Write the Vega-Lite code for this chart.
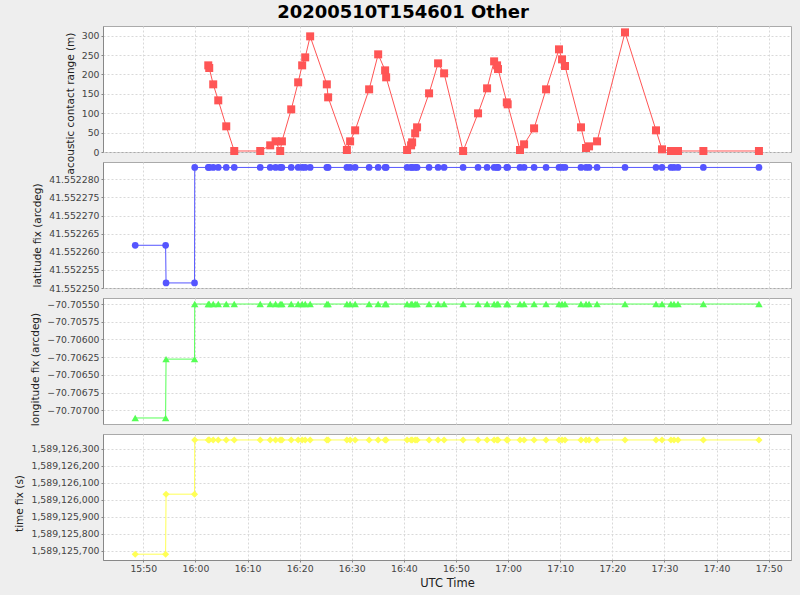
{
  "$schema": "https://vega.github.io/schema/vega-lite/v6.json",
  "background": "#eeeeee",
  "padding": {"left": 14, "top": 3, "right": 8, "bottom": 5},
  "spacing": 10,
  "bounds": "flush",
  "title": {"text": "20200510T154601 Other", "fontSize": 18, "font": "DejaVu Sans", "fontWeight": "bold", "anchor": "middle", "frame": "bounds", "offset": 4, "color": "#000000"},
  "config": {
    "view": {"fill": "white", "stroke": "#aaaaaa"},
    "axis": {"gridColor": "#d9d9d9", "gridDash": [2, 2], "labelFont": "DejaVu Sans", "labelFontSize": 9.3, "labelColor": "#444444", "titleFont": "DejaVu Sans", "titleFontSize": 10.5, "titleFontWeight": "normal", "titleColor": "#222222", "titlePadding": 6, "tickColor": "#888888", "tickSize": 2, "domainColor": "#888888"}
  },
  "datasets": {
    "fix": [
      {"t": "2020-05-10T15:48:27Z", "lat": 41.5522618, "lon": -70.707109, "tf": 1589125681},
      {"t": "2020-05-10T15:54:17Z", "lat": 41.5522618, "lon": -70.707109, "tf": 1589125681},
      {"t": "2020-05-10T15:54:22Z", "lat": 41.5522514, "lon": -70.706278, "tf": 1589126033},
      {"t": "2020-05-10T15:59:50Z", "lat": 41.5522514, "lon": -70.706278, "tf": 1589126033},
      {"t": "2020-05-10T15:59:52Z", "lat": 41.5522833, "lon": -70.7055, "tf": 1589126351},
      {"t": "2020-05-10T16:02:28Z", "r": 223.5, "lat": 41.5522833, "lon": -70.7055, "tf": 1589126351},
      {"t": "2020-05-10T16:02:39Z", "r": 216.6, "lat": 41.5522833, "lon": -70.7055, "tf": 1589126351},
      {"t": "2020-05-10T16:03:25Z", "r": 174.5, "lat": 41.5522833, "lon": -70.7055, "tf": 1589126351},
      {"t": "2020-05-10T16:04:23Z", "r": 133.2, "lat": 41.5522833, "lon": -70.7055, "tf": 1589126351},
      {"t": "2020-05-10T16:05:55Z", "r": 66.2, "lat": 41.5522833, "lon": -70.7055, "tf": 1589126351},
      {"t": "2020-05-10T16:07:27Z", "r": 2.6, "lat": 41.5522833, "lon": -70.7055, "tf": 1589126351},
      {"t": "2020-05-10T16:12:26Z", "r": 2.6, "lat": 41.5522833, "lon": -70.7055, "tf": 1589126351},
      {"t": "2020-05-10T16:14:21Z", "r": 17.2, "lat": 41.5522833, "lon": -70.7055, "tf": 1589126351},
      {"t": "2020-05-10T16:15:23Z", "r": 27.5, "lat": 41.5522833, "lon": -70.7055, "tf": 1589126351},
      {"t": "2020-05-10T16:16:16Z", "r": 2.6, "lat": 41.5522833, "lon": -70.7055, "tf": 1589126351},
      {"t": "2020-05-10T16:16:36Z", "r": 27.5, "lat": 41.5522833, "lon": -70.7055, "tf": 1589126351},
      {"t": "2020-05-10T16:18:23Z", "r": 110, "lat": 41.5522833, "lon": -70.7055, "tf": 1589126351},
      {"t": "2020-05-10T16:19:43Z", "r": 179.7, "lat": 41.5522833, "lon": -70.7055, "tf": 1589126351},
      {"t": "2020-05-10T16:20:29Z", "r": 223.5, "lat": 41.5522833, "lon": -70.7055, "tf": 1589126351},
      {"t": "2020-05-10T16:21:04Z", "r": 244.1, "lat": 41.5522833, "lon": -70.7055, "tf": 1589126351},
      {"t": "2020-05-10T16:22:01Z", "r": 298.3, "lat": 41.5522833, "lon": -70.7055, "tf": 1589126351},
      {"t": "2020-05-10T16:25:13Z", "r": 174.5, "lat": 41.5522833, "lon": -70.7055, "tf": 1589126351},
      {"t": "2020-05-10T16:25:28Z", "r": 141, "lat": 41.5522833, "lon": -70.7055, "tf": 1589126351},
      {"t": "2020-05-10T16:29:04Z", "r": 5.2, "lat": 41.5522833, "lon": -70.7055, "tf": 1589126351},
      {"t": "2020-05-10T16:29:41Z", "r": 27.5, "lat": 41.5522833, "lon": -70.7055, "tf": 1589126351},
      {"t": "2020-05-10T16:30:39Z", "r": 55.9, "lat": 41.5522833, "lon": -70.7055, "tf": 1589126351},
      {"t": "2020-05-10T16:33:20Z", "r": 161.6, "lat": 41.5522833, "lon": -70.7055, "tf": 1589126351},
      {"t": "2020-05-10T16:35:04Z", "r": 251.9, "lat": 41.5522833, "lon": -70.7055, "tf": 1589126351},
      {"t": "2020-05-10T16:36:24Z", "r": 210.6, "lat": 41.5522833, "lon": -70.7055, "tf": 1589126351},
      {"t": "2020-05-10T16:36:36Z", "r": 192.6, "lat": 41.5522833, "lon": -70.7055, "tf": 1589126351},
      {"t": "2020-05-10T16:40:37Z", "r": 5.2, "lat": 41.5522833, "lon": -70.7055, "tf": 1589126351},
      {"t": "2020-05-10T16:41:23Z", "r": 17.2, "lat": 41.5522833, "lon": -70.7055, "tf": 1589126351},
      {"t": "2020-05-10T16:41:35Z", "r": 24.9, "lat": 41.5522833, "lon": -70.7055, "tf": 1589126351},
      {"t": "2020-05-10T16:42:10Z", "r": 48.1, "lat": 41.5522833, "lon": -70.7055, "tf": 1589126351},
      {"t": "2020-05-10T16:42:32Z", "r": 63.6, "lat": 41.5522833, "lon": -70.7055, "tf": 1589126351},
      {"t": "2020-05-10T16:44:50Z", "r": 151.3, "lat": 41.5522833, "lon": -70.7055, "tf": 1589126351},
      {"t": "2020-05-10T16:46:34Z", "r": 228.7, "lat": 41.5522833, "lon": -70.7055, "tf": 1589126351},
      {"t": "2020-05-10T16:47:43Z", "r": 202.9, "lat": 41.5522833, "lon": -70.7055, "tf": 1589126351},
      {"t": "2020-05-10T16:51:22Z", "r": 2.6, "lat": 41.5522833, "lon": -70.7055, "tf": 1589126351},
      {"t": "2020-05-10T16:54:14Z", "r": 99.7, "lat": 41.5522833, "lon": -70.7055, "tf": 1589126351},
      {"t": "2020-05-10T16:55:58Z", "r": 164.2, "lat": 41.5522833, "lon": -70.7055, "tf": 1589126351},
      {"t": "2020-05-10T16:57:19Z", "r": 233.8, "lat": 41.5522833, "lon": -70.7055, "tf": 1589126351},
      {"t": "2020-05-10T16:57:53Z", "r": 223.5, "lat": 41.5522833, "lon": -70.7055, "tf": 1589126351},
      {"t": "2020-05-10T16:58:04Z", "r": 214, "lat": 41.5522833, "lon": -70.7055, "tf": 1589126351},
      {"t": "2020-05-10T16:59:45Z", "r": 128, "lat": 41.5522833, "lon": -70.7055, "tf": 1589126351},
      {"t": "2020-05-10T16:59:55Z", "r": 123, "lat": 41.5522833, "lon": -70.7055, "tf": 1589126351},
      {"t": "2020-05-10T17:02:17Z", "r": 5.2, "lat": 41.5522833, "lon": -70.7055, "tf": 1589126351},
      {"t": "2020-05-10T17:03:04Z", "r": 19.8, "lat": 41.5522833, "lon": -70.7055, "tf": 1589126351},
      {"t": "2020-05-10T17:04:59Z", "r": 61, "lat": 41.5522833, "lon": -70.7055, "tf": 1589126351},
      {"t": "2020-05-10T17:07:17Z", "r": 161.6, "lat": 41.5522833, "lon": -70.7055, "tf": 1589126351},
      {"t": "2020-05-10T17:09:46Z", "r": 264.8, "lat": 41.5522833, "lon": -70.7055, "tf": 1589126351},
      {"t": "2020-05-10T17:10:21Z", "r": 239, "lat": 41.5522833, "lon": -70.7055, "tf": 1589126351},
      {"t": "2020-05-10T17:10:55Z", "r": 221.8, "lat": 41.5522833, "lon": -70.7055, "tf": 1589126351},
      {"t": "2020-05-10T17:13:59Z", "r": 63.6, "lat": 41.5522833, "lon": -70.7055, "tf": 1589126351},
      {"t": "2020-05-10T17:14:57Z", "r": 10.3, "lat": 41.5522833, "lon": -70.7055, "tf": 1589126351},
      {"t": "2020-05-10T17:15:32Z", "r": 14.6, "lat": 41.5522833, "lon": -70.7055, "tf": 1589126351},
      {"t": "2020-05-10T17:17:04Z", "r": 27.5, "lat": 41.5522833, "lon": -70.7055, "tf": 1589126351},
      {"t": "2020-05-10T17:22:26Z", "r": 308.6, "lat": 41.5522833, "lon": -70.7055, "tf": 1589126351},
      {"t": "2020-05-10T17:28:23Z", "r": 55.9, "lat": 41.5522833, "lon": -70.7055, "tf": 1589126351},
      {"t": "2020-05-10T17:29:32Z", "r": 6.9, "lat": 41.5522833, "lon": -70.7055, "tf": 1589126351},
      {"t": "2020-05-10T17:31:15Z", "r": 2.6, "lat": 41.5522833, "lon": -70.7055, "tf": 1589126351},
      {"t": "2020-05-10T17:31:50Z", "r": 2.6, "lat": 41.5522833, "lon": -70.7055, "tf": 1589126351},
      {"t": "2020-05-10T17:32:36Z", "r": 2.6, "lat": 41.5522833, "lon": -70.7055, "tf": 1589126351},
      {"t": "2020-05-10T17:37:28Z", "r": 2.6, "lat": 41.5522833, "lon": -70.7055, "tf": 1589126351},
      {"t": "2020-05-10T17:48:08Z", "r": 2.6, "lat": 41.5522833, "lon": -70.7055, "tf": 1589126351}
    ]
  },
  "vconcat": [
    {
      "width": 688, "height": 126,
      "data": {"name": "fix"},
      "transform": [{"filter": "isValid(datum.r)"}],
      "encoding": {
        "x": {"field": "t", "type": "temporal", "scale": {"type": "utc", "domain": [1589125336000, 1589133257000]},
              "axis": {"labels": false, "ticks": false, "domain": false, "title": null, "labelPadding": 0, "values": [1589125800000, 1589126400000, 1589127000000, 1589127600000, 1589128200000, 1589128800000, 1589129400000, 1589130000000, 1589130600000, 1589131200000, 1589131800000, 1589132400000, 1589133000000]}},
        "y": {"field": "r", "type": "quantitative", "scale": {"domain": [0, 325], "nice": false, "zero": false},
              "axis": {"title": "acoustic contact range (m)", "titleY": 77, "values": [0, 50, 100, 150, 200, 250, 300]}}
      },
      "layer": [
        {"mark": {"type": "line", "color": "#ff5555", "strokeWidth": 1}},
        {"mark": {"type": "point", "shape": "square", "filled": true, "opacity": 1, "color": "#ff5555", "size": 64}}
      ]
    },
    {
      "width": 688, "height": 126,
      "data": {"name": "fix"},
      "encoding": {
        "x": {"field": "t", "type": "temporal", "scale": {"type": "utc", "domain": [1589125336000, 1589133257000]},
              "axis": {"labels": false, "ticks": false, "domain": false, "title": null, "labelPadding": 0, "values": [1589125800000, 1589126400000, 1589127000000, 1589127600000, 1589128200000, 1589128800000, 1589129400000, 1589130000000, 1589130600000, 1589131200000, 1589131800000, 1589132400000, 1589133000000]}},
        "y": {"field": "lat", "type": "quantitative", "scale": {"domain": [41.55225, 41.5522848], "nice": false, "zero": false},
              "axis": {"title": "latitude fix (arcdeg)", "titleY": 73, "format": ".6f", "values": [41.55225, 41.552255, 41.55226, 41.552265, 41.55227, 41.552275, 41.55228]}}
      },
      "layer": [
        {"mark": {"type": "line", "color": "#5555ff", "strokeWidth": 1}},
        {"mark": {"type": "point", "shape": "circle", "filled": true, "opacity": 1, "color": "#5555ff", "size": 45}}
      ]
    },
    {
      "width": 688, "height": 126,
      "data": {"name": "fix"},
      "encoding": {
        "x": {"field": "t", "type": "temporal", "scale": {"type": "utc", "domain": [1589125336000, 1589133257000]},
              "axis": {"labels": false, "ticks": false, "domain": false, "title": null, "labelPadding": 0, "values": [1589125800000, 1589126400000, 1589127000000, 1589127600000, 1589128200000, 1589128800000, 1589129400000, 1589130000000, 1589130600000, 1589131200000, 1589131800000, 1589132400000, 1589133000000]}},
        "y": {"field": "lon", "type": "quantitative", "scale": {"domain": [-70.707194, -70.705415], "nice": false, "zero": false},
              "axis": {"title": "longitude fix (arcdeg)", "titleY": 71, "format": ".5f", "values": [-70.707, -70.70675, -70.7065, -70.70625, -70.706, -70.70575, -70.7055]}}
      },
      "layer": [
        {"mark": {"type": "line", "color": "#55ff55", "strokeWidth": 1}},
        {"mark": {"type": "point", "shape": "triangle-up", "filled": true, "opacity": 1, "color": "#55ff55", "size": 55}}
      ]
    },
    {
      "width": 688, "height": 126,
      "data": {"name": "fix"},
      "encoding": {
        "x": {"field": "t", "type": "temporal", "scale": {"type": "utc", "domain": [1589125336000, 1589133257000]},
              "axis": {"title": "UTC Time", "titleFontSize": 11.5, "titlePadding": 4, "format": "%H:%M", "values": [1589125800000, 1589126400000, 1589127000000, 1589127600000, 1589128200000, 1589128800000, 1589129400000, 1589130000000, 1589130600000, 1589131200000, 1589131800000, 1589132400000, 1589133000000]}},
        "y": {"field": "tf", "type": "quantitative", "scale": {"domain": [1589125647, 1589126386], "nice": false, "zero": false},
              "axis": {"title": "time fix (s)", "titleY": 69, "format": ",d", "values": [1589125700, 1589125800, 1589125900, 1589126000, 1589126100, 1589126200, 1589126300]}}
      },
      "layer": [
        {"mark": {"type": "line", "color": "#ffff55", "strokeWidth": 1}},
        {"mark": {"type": "point", "shape": "diamond", "filled": true, "opacity": 1, "color": "#ffff55", "size": 50}}
      ]
    }
  ]
}
